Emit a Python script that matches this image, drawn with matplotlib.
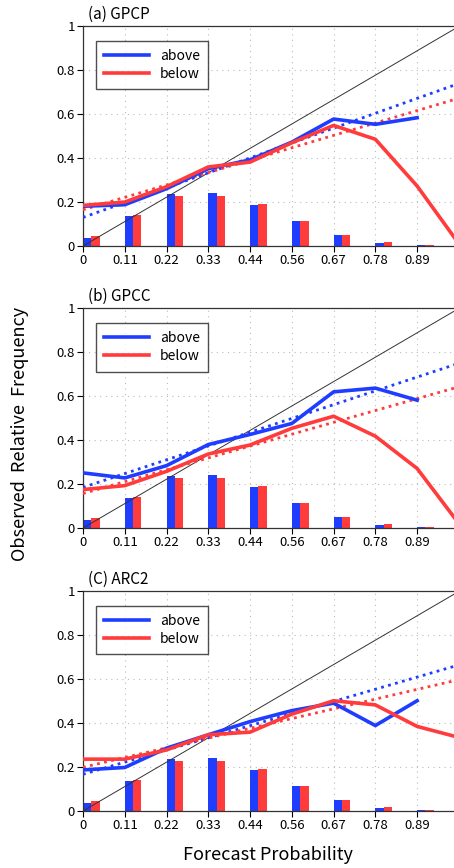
import matplotlib
matplotlib.use("Agg")
import matplotlib.pyplot as plt
import numpy as np

plt.rcParams["font.family"] = ["Noto Sans CJK JP", "DejaVu Sans"]

# bin centres (forecast probability) and their labels
prob_bins = [0, 1 / 9, 2 / 9, 3 / 9, 4 / 9, 5 / 9, 6 / 9, 7 / 9, 8 / 9, 1.0]
tick_labels = ["0", "0.11", "0.22", "0.33", "0.44", "0.56", "0.67", "0.78", "0.89"]

# forecast frequency histogram (same in all panels)
hist_above = [0.038, 0.136, 0.236, 0.243, 0.186, 0.112, 0.052, 0.015, 0.004]
hist_below = [0.045, 0.141, 0.227, 0.229, 0.190, 0.112, 0.052, 0.018, 0.005]

panel_titles = ["(a) GPCP", "(b) GPCC", "(C) ARC2"]

# observed relative frequency curves
gpcp_above = [0.181, 0.188, 0.261, 0.352, 0.392, 0.473, 0.578, 0.554, 0.584]
gpcp_below = [0.185, 0.200, 0.270, 0.360, 0.382, 0.470, 0.549, 0.486, 0.273, 0.010]
gpcc_above = [0.251, 0.228, 0.284, 0.380, 0.426, 0.476, 0.620, 0.637, 0.582]
gpcc_below = [0.175, 0.193, 0.258, 0.337, 0.378, 0.454, 0.509, 0.418, 0.271, 0.020]
arc2_above = [0.187, 0.198, 0.286, 0.347, 0.407, 0.457, 0.491, 0.389, 0.502]
arc2_below = [0.236, 0.236, 0.278, 0.347, 0.359, 0.441, 0.502, 0.483, 0.385, 0.335]

# fitted reliability lines: value at p=0 and p=1
fit_x = [0.0, 1.0]
gpcp_fit_above = [0.130, 0.740]
gpcp_fit_below = [0.165, 0.673]
gpcc_fit_above = [0.185, 0.750]
gpcc_fit_below = [0.157, 0.643]
arc2_fit_above = [0.167, 0.665]
arc2_fit_below = [0.199, 0.598]

curves = [
    (gpcp_above, gpcp_below, gpcp_fit_above, gpcp_fit_below),
    (gpcc_above, gpcc_below, gpcc_fit_above, gpcc_fit_below),
    (arc2_above, arc2_below, arc2_fit_above, arc2_fit_below),
]

BLUE = "#1f3dff"
RED = "#ff3b3b"
bar_w = 0.0222

fig = plt.figure(figsize=(4.54, 8.68), dpi=100)
left, width, height = 0.1828, 0.828, 0.2530
bottoms = [0.7166, 0.3917, 0.0657]

for title, bottom, (above, below, fit_a, fit_b) in zip(panel_titles, bottoms, curves):
    ax = fig.add_axes([left, bottom, width, height])
    centers = np.array(prob_bins[:9])

    ax.bar(centers, hist_above, width=bar_w, align="edge", color=BLUE, zorder=2)
    ax.bar(centers + bar_w, hist_below, width=bar_w, align="edge", color=RED, zorder=2)

    ax.plot([0, 1], [0, 1], color="#333333", lw=0.7, zorder=3)
    ax.plot(fit_x, fit_a, color=BLUE, lw=2, ls=(0, (1, 1.6)), zorder=3)
    ax.plot(fit_x, fit_b, color=RED, lw=2, ls=(0, (1, 1.6)), zorder=3)
    ax.plot(prob_bins[:len(above)], above, color=BLUE, lw=2.6, label="above", zorder=4)
    ax.plot(prob_bins[:len(below)], below, color=RED, lw=2.6, label="below", zorder=4)

    ax.set_xlim(0, 1)
    ax.set_ylim(0, 1)
    ax.set_xticks(centers)
    ax.set_xticklabels(tick_labels)
    ax.set_yticks([0, 0.2, 0.4, 0.6, 0.8, 1.0])
    ax.set_yticklabels(["0", "0.2", "0.4", "0.6", "0.8", "1"])
    ax.tick_params(direction="out", length=4, labelsize=9.5, pad=2)
    ax.grid(True, ls=(0, (1, 4)), color="#bbbbbb", lw=0.8, zorder=0)
    ax.set_axisbelow(True)
    for s in ax.spines.values():
        s.set_linewidth(0.9)
        s.set_color("#333333")

    ax.text(0.012, 1.015, title, transform=ax.transAxes, fontsize=11,
            ha="left", va="bottom")

    leg = ax.legend(loc="upper left", bbox_to_anchor=(0.035, 0.935),
                    borderaxespad=0, frameon=True, fancybox=False,
                    handlelength=3.2, fontsize=10, borderpad=0.6,
                    labelspacing=0.3, handletextpad=0.8)
    leg.get_frame().set_edgecolor("#222222")
    leg.get_frame().set_linewidth(1.0)

fig.text(0.045, 0.5, "Observed  Relative  Frequency", rotation=90,
         ha="center", va="center", fontsize=13)
fig.text(0.59, 0.015, "Forecast Probability", ha="center", va="center", fontsize=13)

fig.savefig("out.png", dpi=100)
